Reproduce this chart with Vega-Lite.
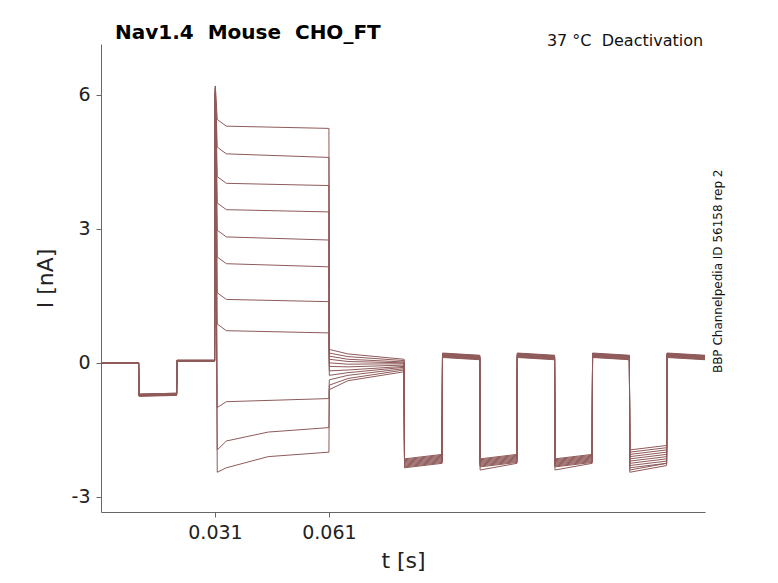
{
  "$schema": "https://vega.github.io/schema/vega-lite/v6.json",
  "width": 604,
  "height": 468,
  "autosize": "none",
  "padding": {"left": 101, "top": 44, "right": 73, "bottom": 71},
  "config": {"view": {"stroke": null}, "font": "DejaVu Sans"},
  "data": {"values": [
    {"s":0,"t":0.001,"i":0},{"s":0,"t":0.0109,"i":0},{"s":0,"t":0.011,"i":-0.7},{"s":0,"t":0.0209,"i":-0.68},{"s":0,"t":0.021,"i":0.06},{"s":0,"t":0.0309,"i":0.06},{"s":0,"t":0.0311,"i":6.2},{"s":0,"t":0.0316,"i":5.45},{"s":0,"t":0.034,"i":5.3},{"s":0,"t":0.061,"i":5.25},{"s":0,"t":0.0611,"i":0.3},{"s":0,"t":0.066,"i":0.2},{"s":0,"t":0.0808,"i":0.08},{"s":0,"t":0.0809,"i":-2.15},{"s":0,"t":0.0908,"i":-2.05},{"s":0,"t":0.0909,"i":0.22},{"s":0,"t":0.1007,"i":0.17},{"s":0,"t":0.1008,"i":-2.15},{"s":0,"t":0.1105,"i":-2.05},{"s":0,"t":0.1106,"i":0.22},{"s":0,"t":0.1204,"i":0.17},{"s":0,"t":0.1205,"i":-2.15},{"s":0,"t":0.1303,"i":-2.05},{"s":0,"t":0.1304,"i":0.22},{"s":0,"t":0.1401,"i":0.17},{"s":0,"t":0.1402,"i":-1.95},{"s":0,"t":0.1499,"i":-1.85},{"s":0,"t":0.15,"i":0.22},{"s":0,"t":0.16,"i":0.17},
    {"s":1,"t":0.001,"i":0},{"s":1,"t":0.0109,"i":0},{"s":1,"t":0.011,"i":-0.7},{"s":1,"t":0.0209,"i":-0.68},{"s":1,"t":0.021,"i":0.06},{"s":1,"t":0.0309,"i":0.06},{"s":1,"t":0.0311,"i":6.2},{"s":1,"t":0.0316,"i":4.83},{"s":1,"t":0.034,"i":4.68},{"s":1,"t":0.061,"i":4.6},{"s":1,"t":0.0611,"i":0.22},{"s":1,"t":0.066,"i":0.14},{"s":1,"t":0.0808,"i":0.05},{"s":1,"t":0.0809,"i":-2.17},{"s":1,"t":0.0908,"i":-2.07},{"s":1,"t":0.0909,"i":0.21},{"s":1,"t":0.1007,"i":0.16},{"s":1,"t":0.1008,"i":-2.17},{"s":1,"t":0.1105,"i":-2.07},{"s":1,"t":0.1106,"i":0.21},{"s":1,"t":0.1204,"i":0.16},{"s":1,"t":0.1205,"i":-2.17},{"s":1,"t":0.1303,"i":-2.07},{"s":1,"t":0.1304,"i":0.21},{"s":1,"t":0.1401,"i":0.16},{"s":1,"t":0.1402,"i":-2.0},{"s":1,"t":0.1499,"i":-1.9},{"s":1,"t":0.15,"i":0.21},{"s":1,"t":0.16,"i":0.16},
    {"s":2,"t":0.001,"i":0},{"s":2,"t":0.0109,"i":0},{"s":2,"t":0.011,"i":-0.71},{"s":2,"t":0.0209,"i":-0.69},{"s":2,"t":0.021,"i":0.05},{"s":2,"t":0.0309,"i":0.05},{"s":2,"t":0.0311,"i":6.15},{"s":2,"t":0.0316,"i":4.17},{"s":2,"t":0.034,"i":4.02},{"s":2,"t":0.061,"i":3.97},{"s":2,"t":0.0611,"i":0.15},{"s":2,"t":0.066,"i":0.08},{"s":2,"t":0.0808,"i":0.02},{"s":2,"t":0.0809,"i":-2.19},{"s":2,"t":0.0908,"i":-2.09},{"s":2,"t":0.0909,"i":0.2},{"s":2,"t":0.1007,"i":0.15},{"s":2,"t":0.1008,"i":-2.19},{"s":2,"t":0.1105,"i":-2.09},{"s":2,"t":0.1106,"i":0.2},{"s":2,"t":0.1204,"i":0.15},{"s":2,"t":0.1205,"i":-2.19},{"s":2,"t":0.1303,"i":-2.09},{"s":2,"t":0.1304,"i":0.2},{"s":2,"t":0.1401,"i":0.15},{"s":2,"t":0.1402,"i":-2.05},{"s":2,"t":0.1499,"i":-1.95},{"s":2,"t":0.15,"i":0.2},{"s":2,"t":0.16,"i":0.15},
    {"s":3,"t":0.001,"i":0},{"s":3,"t":0.0109,"i":0},{"s":3,"t":0.011,"i":-0.71},{"s":3,"t":0.0209,"i":-0.69},{"s":3,"t":0.021,"i":0.05},{"s":3,"t":0.0309,"i":0.05},{"s":3,"t":0.0311,"i":6.15},{"s":3,"t":0.0316,"i":3.58},{"s":3,"t":0.034,"i":3.43},{"s":3,"t":0.061,"i":3.38},{"s":3,"t":0.0611,"i":0.08},{"s":3,"t":0.066,"i":0.03},{"s":3,"t":0.0808,"i":0.0},{"s":3,"t":0.0809,"i":-2.21},{"s":3,"t":0.0908,"i":-2.11},{"s":3,"t":0.0909,"i":0.19},{"s":3,"t":0.1007,"i":0.14},{"s":3,"t":0.1008,"i":-2.21},{"s":3,"t":0.1105,"i":-2.11},{"s":3,"t":0.1106,"i":0.19},{"s":3,"t":0.1204,"i":0.14},{"s":3,"t":0.1205,"i":-2.21},{"s":3,"t":0.1303,"i":-2.11},{"s":3,"t":0.1304,"i":0.19},{"s":3,"t":0.1401,"i":0.14},{"s":3,"t":0.1402,"i":-2.1},{"s":3,"t":0.1499,"i":-2.0},{"s":3,"t":0.15,"i":0.19},{"s":3,"t":0.16,"i":0.14},
    {"s":4,"t":0.001,"i":0},{"s":4,"t":0.0109,"i":0},{"s":4,"t":0.011,"i":-0.72},{"s":4,"t":0.0209,"i":-0.7},{"s":4,"t":0.021,"i":0.05},{"s":4,"t":0.0309,"i":0.05},{"s":4,"t":0.0311,"i":6.1},{"s":4,"t":0.0316,"i":2.97},{"s":4,"t":0.034,"i":2.82},{"s":4,"t":0.061,"i":2.75},{"s":4,"t":0.0611,"i":0.0},{"s":4,"t":0.066,"i":-0.03},{"s":4,"t":0.0808,"i":-0.02},{"s":4,"t":0.0809,"i":-2.23},{"s":4,"t":0.0908,"i":-2.13},{"s":4,"t":0.0909,"i":0.18},{"s":4,"t":0.1007,"i":0.13},{"s":4,"t":0.1008,"i":-2.23},{"s":4,"t":0.1105,"i":-2.13},{"s":4,"t":0.1106,"i":0.18},{"s":4,"t":0.1204,"i":0.13},{"s":4,"t":0.1205,"i":-2.23},{"s":4,"t":0.1303,"i":-2.13},{"s":4,"t":0.1304,"i":0.18},{"s":4,"t":0.1401,"i":0.13},{"s":4,"t":0.1402,"i":-2.15},{"s":4,"t":0.1499,"i":-2.05},{"s":4,"t":0.15,"i":0.18},{"s":4,"t":0.16,"i":0.13},
    {"s":5,"t":0.001,"i":0},{"s":5,"t":0.0109,"i":0},{"s":5,"t":0.011,"i":-0.72},{"s":5,"t":0.0209,"i":-0.7},{"s":5,"t":0.021,"i":0.05},{"s":5,"t":0.0309,"i":0.05},{"s":5,"t":0.0311,"i":6.1},{"s":5,"t":0.0316,"i":2.37},{"s":5,"t":0.034,"i":2.22},{"s":5,"t":0.061,"i":2.15},{"s":5,"t":0.0611,"i":-0.08},{"s":5,"t":0.066,"i":-0.09},{"s":5,"t":0.0808,"i":-0.05},{"s":5,"t":0.0809,"i":-2.25},{"s":5,"t":0.0908,"i":-2.15},{"s":5,"t":0.0909,"i":0.17},{"s":5,"t":0.1007,"i":0.12},{"s":5,"t":0.1008,"i":-2.25},{"s":5,"t":0.1105,"i":-2.15},{"s":5,"t":0.1106,"i":0.17},{"s":5,"t":0.1204,"i":0.12},{"s":5,"t":0.1205,"i":-2.25},{"s":5,"t":0.1303,"i":-2.15},{"s":5,"t":0.1304,"i":0.17},{"s":5,"t":0.1401,"i":0.12},{"s":5,"t":0.1402,"i":-2.2},{"s":5,"t":0.1499,"i":-2.1},{"s":5,"t":0.15,"i":0.17},{"s":5,"t":0.16,"i":0.12},
    {"s":6,"t":0.001,"i":0},{"s":6,"t":0.0109,"i":0},{"s":6,"t":0.011,"i":-0.73},{"s":6,"t":0.0209,"i":-0.71},{"s":6,"t":0.021,"i":0.04},{"s":6,"t":0.0309,"i":0.04},{"s":6,"t":0.0311,"i":6.05},{"s":6,"t":0.0316,"i":1.57},{"s":6,"t":0.034,"i":1.42},{"s":6,"t":0.061,"i":1.37},{"s":6,"t":0.0611,"i":-0.18},{"s":6,"t":0.066,"i":-0.16},{"s":6,"t":0.0808,"i":-0.08},{"s":6,"t":0.0809,"i":-2.27},{"s":6,"t":0.0908,"i":-2.17},{"s":6,"t":0.0909,"i":0.16},{"s":6,"t":0.1007,"i":0.11},{"s":6,"t":0.1008,"i":-2.27},{"s":6,"t":0.1105,"i":-2.17},{"s":6,"t":0.1106,"i":0.16},{"s":6,"t":0.1204,"i":0.11},{"s":6,"t":0.1205,"i":-2.27},{"s":6,"t":0.1303,"i":-2.17},{"s":6,"t":0.1304,"i":0.16},{"s":6,"t":0.1401,"i":0.11},{"s":6,"t":0.1402,"i":-2.25},{"s":6,"t":0.1499,"i":-2.15},{"s":6,"t":0.15,"i":0.16},{"s":6,"t":0.16,"i":0.11},
    {"s":7,"t":0.001,"i":0},{"s":7,"t":0.0109,"i":0},{"s":7,"t":0.011,"i":-0.73},{"s":7,"t":0.0209,"i":-0.71},{"s":7,"t":0.021,"i":0.04},{"s":7,"t":0.0309,"i":0.04},{"s":7,"t":0.0311,"i":6.05},{"s":7,"t":0.0316,"i":0.87},{"s":7,"t":0.034,"i":0.72},{"s":7,"t":0.061,"i":0.67},{"s":7,"t":0.0611,"i":-0.28},{"s":7,"t":0.066,"i":-0.22},{"s":7,"t":0.0808,"i":-0.1},{"s":7,"t":0.0809,"i":-2.29},{"s":7,"t":0.0908,"i":-2.19},{"s":7,"t":0.0909,"i":0.15},{"s":7,"t":0.1007,"i":0.1},{"s":7,"t":0.1008,"i":-2.29},{"s":7,"t":0.1105,"i":-2.19},{"s":7,"t":0.1106,"i":0.15},{"s":7,"t":0.1204,"i":0.1},{"s":7,"t":0.1205,"i":-2.29},{"s":7,"t":0.1303,"i":-2.19},{"s":7,"t":0.1304,"i":0.15},{"s":7,"t":0.1401,"i":0.1},{"s":7,"t":0.1402,"i":-2.3},{"s":7,"t":0.1499,"i":-2.2},{"s":7,"t":0.15,"i":0.15},{"s":7,"t":0.16,"i":0.1},
    {"s":8,"t":0.001,"i":0},{"s":8,"t":0.0109,"i":0},{"s":8,"t":0.011,"i":-0.74},{"s":8,"t":0.0209,"i":-0.72},{"s":8,"t":0.021,"i":0.04},{"s":8,"t":0.0309,"i":0.04},{"s":8,"t":0.0311,"i":6.0},{"s":8,"t":0.0316,"i":-1.0},{"s":8,"t":0.034,"i":-0.87},{"s":8,"t":0.061,"i":-0.8},{"s":8,"t":0.0611,"i":-0.38},{"s":8,"t":0.066,"i":-0.28},{"s":8,"t":0.0808,"i":-0.13},{"s":8,"t":0.0809,"i":-2.31},{"s":8,"t":0.0908,"i":-2.21},{"s":8,"t":0.0909,"i":0.14},{"s":8,"t":0.1007,"i":0.09},{"s":8,"t":0.1008,"i":-2.31},{"s":8,"t":0.1105,"i":-2.21},{"s":8,"t":0.1106,"i":0.14},{"s":8,"t":0.1204,"i":0.09},{"s":8,"t":0.1205,"i":-2.31},{"s":8,"t":0.1303,"i":-2.21},{"s":8,"t":0.1304,"i":0.14},{"s":8,"t":0.1401,"i":0.09},{"s":8,"t":0.1402,"i":-2.35},{"s":8,"t":0.1499,"i":-2.25},{"s":8,"t":0.15,"i":0.14},{"s":8,"t":0.16,"i":0.09},
    {"s":9,"t":0.001,"i":0},{"s":9,"t":0.0109,"i":0},{"s":9,"t":0.011,"i":-0.74},{"s":9,"t":0.0209,"i":-0.72},{"s":9,"t":0.021,"i":0.04},{"s":9,"t":0.0309,"i":0.04},{"s":9,"t":0.0311,"i":6.0},{"s":9,"t":0.0316,"i":-1.95},{"s":9,"t":0.034,"i":-1.75},{"s":9,"t":0.045,"i":-1.55},{"s":9,"t":0.061,"i":-1.45},{"s":9,"t":0.0611,"i":-0.5},{"s":9,"t":0.066,"i":-0.35},{"s":9,"t":0.0808,"i":-0.16},{"s":9,"t":0.0809,"i":-2.33},{"s":9,"t":0.0908,"i":-2.23},{"s":9,"t":0.0909,"i":0.13},{"s":9,"t":0.1007,"i":0.08},{"s":9,"t":0.1008,"i":-2.33},{"s":9,"t":0.1105,"i":-2.23},{"s":9,"t":0.1106,"i":0.13},{"s":9,"t":0.1204,"i":0.08},{"s":9,"t":0.1205,"i":-2.33},{"s":9,"t":0.1303,"i":-2.23},{"s":9,"t":0.1304,"i":0.13},{"s":9,"t":0.1401,"i":0.08},{"s":9,"t":0.1402,"i":-2.4},{"s":9,"t":0.1499,"i":-2.25},{"s":9,"t":0.15,"i":0.13},{"s":9,"t":0.16,"i":0.08},
    {"s":10,"t":0.001,"i":0},{"s":10,"t":0.0109,"i":0},{"s":10,"t":0.011,"i":-0.75},{"s":10,"t":0.0209,"i":-0.73},{"s":10,"t":0.021,"i":0.03},{"s":10,"t":0.0309,"i":0.03},{"s":10,"t":0.0311,"i":6.0},{"s":10,"t":0.0316,"i":-2.45},{"s":10,"t":0.034,"i":-2.35},{"s":10,"t":0.045,"i":-2.1},{"s":10,"t":0.061,"i":-2.0},{"s":10,"t":0.0611,"i":-0.6},{"s":10,"t":0.066,"i":-0.4},{"s":10,"t":0.0808,"i":-0.2},{"s":10,"t":0.0809,"i":-2.35},{"s":10,"t":0.0908,"i":-2.25},{"s":10,"t":0.0909,"i":0.12},{"s":10,"t":0.1007,"i":0.07},{"s":10,"t":0.1008,"i":-2.4},{"s":10,"t":0.1105,"i":-2.25},{"s":10,"t":0.1106,"i":0.12},{"s":10,"t":0.1204,"i":0.07},{"s":10,"t":0.1205,"i":-2.4},{"s":10,"t":0.1303,"i":-2.25},{"s":10,"t":0.1304,"i":0.12},{"s":10,"t":0.1401,"i":0.07},{"s":10,"t":0.1402,"i":-2.45},{"s":10,"t":0.1499,"i":-2.3},{"s":10,"t":0.15,"i":0.12},{"s":10,"t":0.16,"i":0.07}
  ]},
  "layer": [
    {
      "mark": {"type": "line", "color": "#8f5a5a", "strokeWidth": 1, "interpolate": "linear"},
      "encoding": {
        "x": {"field": "t", "type": "quantitative", "scale": {"domain": [0.001, 0.16], "nice": false, "zero": false},
          "axis": {"values": [0.031, 0.061], "format": ".3f", "title": "t [s]", "titleFontSize": 22, "titleFontWeight": "normal", "labelFontSize": 19, "grid": false, "domainColor": "#666", "tickColor": "#666", "labelColor": "#222", "titleColor": "#222", "tickSize": 5, "labelPadding": 6, "titlePadding": 8}},
        "y": {"field": "i", "type": "quantitative", "scale": {"domain": [-3.34, 7.14], "nice": false, "zero": false},
          "axis": {"values": [-3, 0, 3, 6], "labelExpr": "replace(datum.label, '−', '-')", "title": "I [nA]", "titleFontSize": 22, "titleFontWeight": "normal", "labelFontSize": 19, "grid": false, "domainColor": "#666", "tickColor": "#666", "labelColor": "#222", "titleColor": "#222", "tickSize": 5, "labelPadding": 6, "titlePadding": 14}},
        "detail": {"field": "s", "type": "nominal"}
      }
    },
    {
      "data": {"values": [{}]},
      "mark": {"type": "text", "text": "Nav1.4\u00a0\u00a0Mouse\u00a0\u00a0CHO_FT", "fontSize": 20, "fontWeight": "bold", "align": "left", "baseline": "middle", "clip": false, "color": "#000"},
      "encoding": {"x": {"datum": 0.0047}, "y": {"datum": 7.39}}
    },
    {
      "data": {"values": [{}]},
      "mark": {"type": "text", "text": "37 °C\u00a0\u00a0Deactivation", "fontSize": 16, "align": "right", "baseline": "middle", "clip": false, "color": "#111"},
      "encoding": {"x": {"datum": 0.1595}, "y": {"datum": 7.2}}
    },
    {
      "data": {"values": [{}]},
      "mark": {"type": "text", "text": "BBP Channelpedia ID 56158 rep 2", "fontSize": 12, "angle": 270, "align": "center", "baseline": "middle", "clip": false, "color": "#111"},
      "encoding": {"x": {"datum": 0.1633}, "y": {"datum": 2.05}}
    }
  ]
}
